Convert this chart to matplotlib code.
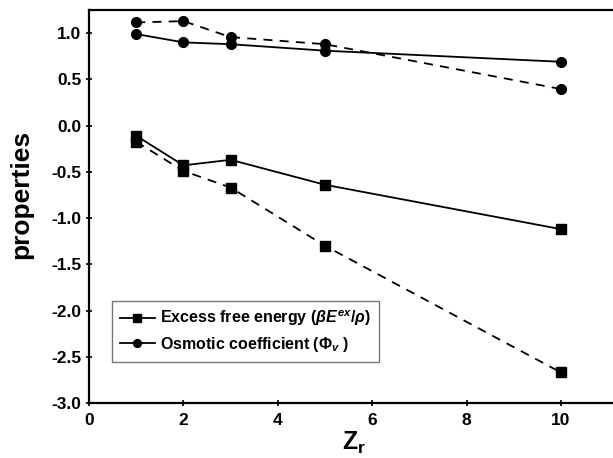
import matplotlib
matplotlib.use("Agg")
import matplotlib.pyplot as plt

plt.rcParams['font.family'] = ['Liberation Sans', 'DejaVu Sans']
plt.rcParams['font.weight'] = 'bold'
plt.rcParams['mathtext.fontset'] = 'custom'
plt.rcParams['mathtext.rm'] = 'Liberation Sans:bold'
plt.rcParams['mathtext.bf'] = 'Liberation Sans:bold'
plt.rcParams['mathtext.it'] = 'Liberation Sans:bold:italic'

zr = [1, 2, 3, 5, 10]
excess_solid = [-0.11, -0.43, -0.37, -0.64, -1.12]
excess_dashed = [-0.175, -0.49, -0.67, -1.30, -2.67]
osmotic_solid = [0.99, 0.90, 0.88, 0.81, 0.69]
osmotic_dashed = [1.115, 1.13, 0.957, 0.88, 0.395]

xticks = [0, 2, 4, 6, 8, 10]
yticks = [-3.0, -2.5, -2.0, -1.5, -1.0, -0.5, 0.0, 0.5, 1.0]

fig = plt.figure(figsize=(6.13, 4.58), dpi=100)
ax = fig.add_axes([89/613, 1 - 403/458, 530/613, 393/458])

lw = 1.3
ax.plot(zr, excess_solid, '-', color='black', lw=lw, marker='s', ms=6.5,
        label=r'Excess free energy ($\mathit{\beta E}^{ex}/\mathit{\rho}$)')
ax.plot(zr, osmotic_solid, '-', color='black', lw=lw, marker='o', ms=7,
        label=r'Osmotic coefficient ($\mathit{\Phi}_{v}$ )')
ax.plot(zr, excess_dashed, '--', color='black', lw=lw, marker='s', ms=6.5, dashes=(5, 4))
ax.plot(zr, osmotic_dashed, '--', color='black', lw=lw, marker='o', ms=7, dashes=(5, 4))

ax.set_xlim(0, 11.23)
ax.set_ylim(-3.0, 1.25)
ax.set_xticks(xticks)
ax.set_xticklabels([str(t) for t in xticks])
ax.set_yticks(yticks)
ax.set_yticklabels([f'{t:.1f}' for t in yticks])
ax.tick_params(direction='inout', length=5, width=1.2, labelsize=12.5, pad=3)
ax.tick_params(axis='x', pad=5)
for lab in ax.get_xticklabels() + ax.get_yticklabels():
    lab.set_fontweight('bold')
for sp in ax.spines.values():
    sp.set_linewidth(1.6)

ax.set_ylabel('properties', fontsize=19, fontweight='bold')
ax.yaxis.set_label_coords(-0.106, 0.53)
ax.set_xlabel(r'$\mathbf{Z}_\mathbf{r}$', fontsize=18, labelpad=1)

leg = ax.legend(loc='lower left', bbox_to_anchor=(0.028, 0.085), fontsize=11.5,
                frameon=True, fancybox=False, edgecolor='#555555',
                handlelength=2.2, handletextpad=0.3, borderpad=0.5,
                labelspacing=0.4, markerscale=0.8)
leg.get_frame().set_linewidth(1.0)

fig.savefig('out.png', dpi=100)
